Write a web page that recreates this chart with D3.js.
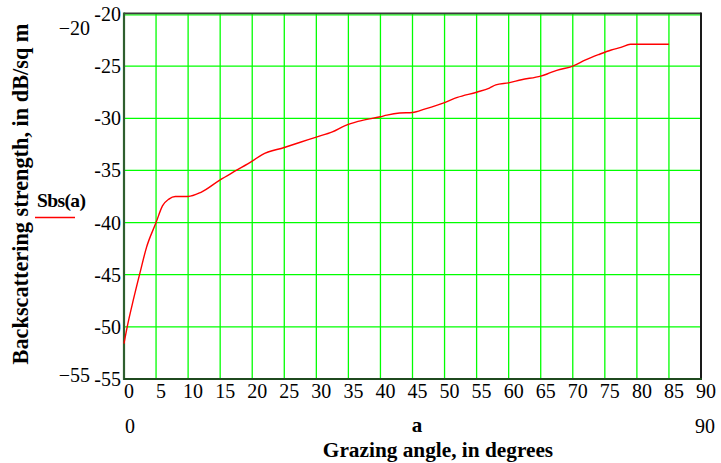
<!DOCTYPE html>
<html>
<head>
<meta charset="utf-8">
<script src="https://cdn.jsdelivr.net/npm/d3@7"></script>
<style>
  html, body { margin: 0; padding: 0; background: #fff; }
  svg text { font-family: "Liberation Serif", "Times New Roman", serif; fill: #000; }
</style>
</head>
<body>
<svg id="chart" width="721" height="463"></svg>
<script>
// Grazing angle (degrees) and backscattering strength Sbs(a) in dB/sq m
const angles = [0, 0.5, 1.5, 2.5, 3.5, 5, 6, 7, 8, 10, 12, 15, 17.5, 20, 21.5, 25, 27.5, 30,
  32.5, 34.5, 36.5, 40, 41, 43, 45, 47, 50, 52, 55, 57, 58, 60, 62, 65, 66, 67.5, 70, 72, 74,
  76, 77.5, 79, 85];
const strength = [-51.6, -50.0, -47.3, -44.8, -42.4, -40.0, -38.4, -37.75, -37.5, -37.5, -37.1,
  -35.9, -35.0, -34.1, -33.5, -32.8, -32.3, -31.8, -31.3, -30.7, -30.3, -29.85, -29.7, -29.5,
  -29.45, -29.1, -28.5, -28.0, -27.5, -27.1, -26.8, -26.6, -26.3, -25.95, -25.75, -25.4, -25.0,
  -24.4, -23.9, -23.45, -23.2, -22.9, -22.9];

const xTicks = [0, 5, 10, 15, 20, 25, 30, 35, 40, 45, 50, 55, 60, 65, 70, 75, 80, 85, 90];
const yTicks = [-20, -25, -30, -35, -40, -45, -50, -55];
const xLimits = ["0", "90"];
const yLimits = ["\u221220", "\u221255"];

const svg = d3.select("#chart");
const x = d3.scaleLinear().domain([0, 90]).range([124, 701]);
const y = d3.scaleLinear().domain([-55, -20]).range([379, 14]);

// grid
const grid = svg.append("g");
grid.selectAll("line.v").data(xTicks.slice(1, -1)).join("line")
  .attr("x1", d => x(d)).attr("x2", d => x(d))
  .attr("y1", y(-20)).attr("y2", y(-55))
  .attr("stroke", "#00ff00").attr("stroke-width", 1.3);
grid.selectAll("line.h").data(yTicks.slice(1, -1)).join("line")
  .attr("x1", x(0)).attr("x2", x(90))
  .attr("y1", d => y(d)).attr("y2", d => y(d))
  .attr("stroke", "#00ff00").attr("stroke-width", 1.3);

// frame
svg.append("line").attr("x1", x(0)).attr("x2", x(90)).attr("y1", y(-20) - 0.5).attr("y2", y(-20) - 0.5)
  .attr("stroke", "#3a3a3a").attr("stroke-width", 2);
svg.append("line").attr("x1", x(0)).attr("x2", x(90)).attr("y1", y(-20) + 1).attr("y2", y(-20) + 1)
  .attr("stroke", "#00ff00").attr("stroke-width", 1);
svg.append("line").attr("x1", x(90)).attr("x2", x(90)).attr("y1", y(-20) - 1.5).attr("y2", y(-55) + 1)
  .attr("stroke", "#1a1a1a").attr("stroke-width", 2);
svg.append("line").attr("x1", x(0)).attr("x2", x(0)).attr("y1", y(-20) - 1.5).attr("y2", y(-55) + 1)
  .attr("stroke", "#2f5f2f").attr("stroke-width", 2.2);
svg.append("line").attr("x1", x(0)).attr("x2", x(90) + 1).attr("y1", y(-55)).attr("y2", y(-55))
  .attr("stroke", "#1f4a1f").attr("stroke-width", 2.2);

// y tick labels
svg.append("g").selectAll("text").data(yTicks).join("text")
  .attr("x", 121).attr("y", d => y(d) + 7)
  .attr("text-anchor", "end").attr("font-size", 20)
  .text(d => "-" + Math.abs(d));

// x tick labels
svg.append("g").selectAll("text").data(xTicks).join("text")
  .attr("x", d => x(d) + 5).attr("y", 398)
  .attr("text-anchor", "middle").attr("font-size", 20)
  .text(d => d);

// axis limit labels
svg.append("text").attr("x", 90).attr("y", 35).attr("text-anchor", "end")
  .attr("font-size", 20).text(yLimits[0]);
svg.append("text").attr("x", 90).attr("y", 382).attr("text-anchor", "end")
  .attr("font-size", 20).text(yLimits[1]);
svg.append("text").attr("x", 125).attr("y", 433).attr("font-size", 20).text(xLimits[0]);
svg.append("text").attr("x", 715).attr("y", 433).attr("text-anchor", "end")
  .attr("font-size", 20).text(xLimits[1]);

// axis titles
svg.append("text").attr("x", 417).attr("y", 432).attr("text-anchor", "middle")
  .attr("font-size", 21).attr("font-weight", "bold").text("a");
svg.append("text").attr("x", 438).attr("y", 456.5).attr("text-anchor", "middle")
  .attr("font-size", 21.3).attr("font-weight", "bold").text("Grazing angle, in degrees");
svg.append("text").attr("transform", "translate(28,194) rotate(-90)")
  .attr("text-anchor", "middle").attr("font-size", 22.3).attr("font-weight", "bold")
  .text("Backscattering strength, in dB/sq m");

// legend
svg.append("text").attr("x", 37).attr("y", 207).attr("font-size", 19.5).attr("font-weight", "bold")
  .attr("letter-spacing", -0.6).text("Sbs(a)");
svg.append("line").attr("x1", 35).attr("x2", 75).attr("y1", 217.5).attr("y2", 217.5)
  .attr("stroke", "#ff0000").attr("stroke-width", 1.3);

// curve
const line = d3.line().x((d, i) => x(angles[i])).y(d => y(d)).curve(d3.curveMonotoneX);
svg.append("path").datum(strength).attr("d", line)
  .attr("fill", "none").attr("stroke", "#ff0000").attr("stroke-width", 1.4);
</script>
</body>
</html>
